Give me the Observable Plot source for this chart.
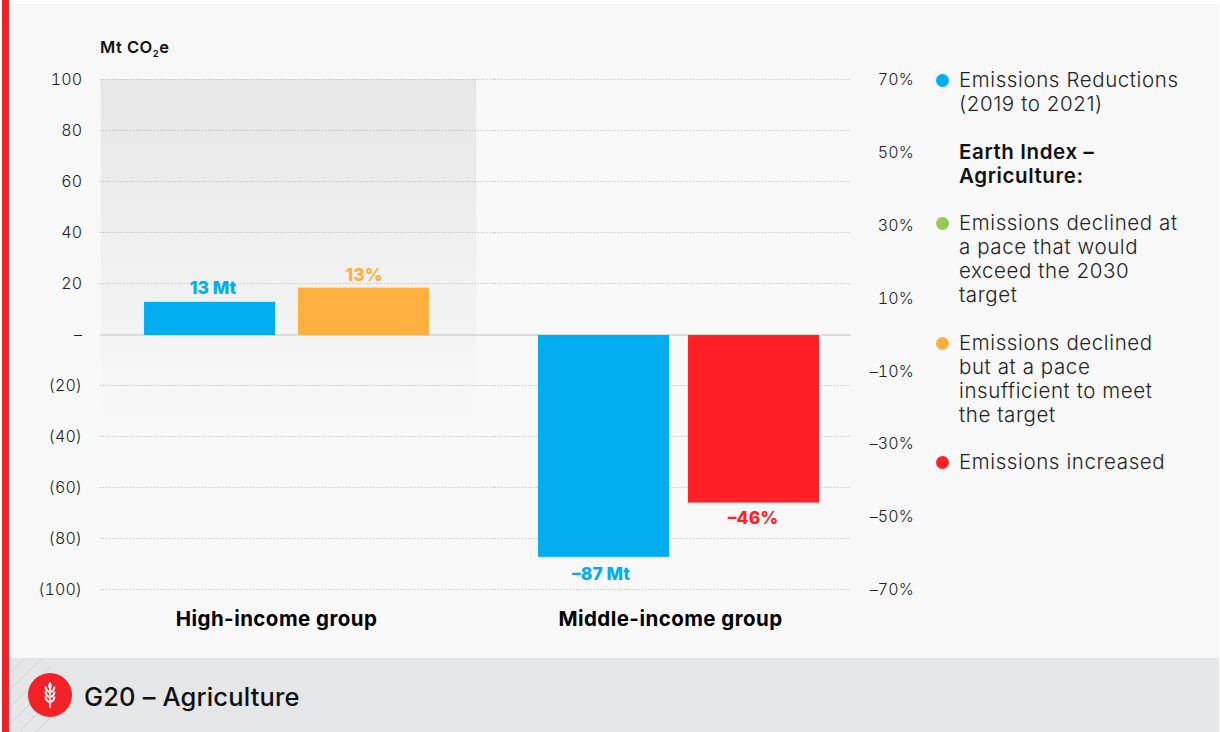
<!DOCTYPE html>
<html>
<head>
<meta charset="utf-8">
<script src="https://cdn.jsdelivr.net/npm/d3@7"></script>
<script src="https://cdn.jsdelivr.net/npm/@observablehq/plot@0.6"></script>
<style>
  html, body { margin: 0; padding: 0; background: #fff; }
  body { width: 1220px; height: 732px; position: relative; overflow: hidden; font-family: Inter, sans-serif; color: #222; }
  #panel { position: absolute; left: 9px; right: 1px; top: 4px; bottom: 0; background: #f8f8f8; }
  #stripe { position: absolute; left: 2px; width: 7px; top: 0; bottom: 0; background: #f12127; }
  #chart { position: absolute; left: 0; top: 0; }
  #chart [aria-label="fx-axis tick label"] { letter-spacing: 0.45px; }
  #chart [aria-label="y-axis tick label"] { letter-spacing: 0.1px; }
  #unit { position: absolute; left: 100px; top: 38px; font-size: 16.5px; font-weight: 600; color: #111; line-height: 18px; letter-spacing: 0.5px; }
  #unit sub { font-size: 9.5px; line-height: 0; vertical-align: -4px; }
  #legend { position: absolute; left: 959px; top: 68px; width: 255px; font-size: 20.5px; font-weight: 300; line-height: 24px; color: #222; letter-spacing: 0.6px; }
  #legend div { position: relative; margin-bottom: 23.6px; }
  #legend .key { position: absolute; left: -23px; top: 6px; width: 13px; height: 13px; border-radius: 50%; }
  #legend b { font-weight: 600; color: #111; }
  #footer { position: absolute; left: 9px; right: 1px; top: 658px; bottom: 0; background: #e5e6e8; }
  #hatch { position: absolute; left: 0; top: 0; width: 41px; height: 74px;
    background: repeating-linear-gradient(135deg, transparent 0 11px, #d0d1d3 11px 12px); }
  #badge { position: absolute; left: 19px; top: 15px; }
  #title { position: absolute; left: 75px; top: 23px; font-size: 25.5px; font-weight: 500; color: #111; line-height: 32px; letter-spacing: 0.15px; }
</style>
</head>
<body>
<div id="panel"></div>
<div id="stripe"></div>
<div id="chart"></div>
<div id="unit">Mt CO<sub>2</sub>e</div>
<div id="legend"></div>
<div id="footer">
  <div id="hatch"></div>
  <svg id="badge" width="44" height="44" viewBox="0 0 44 44">
    <circle cx="22" cy="22" r="22" fill="#f12127"/>
    <g stroke="#fff" fill="none" stroke-linecap="butt">
      <path d="M22 9.5V35" stroke-width="1.5"/>
      <path d="M22 9.5c2 2 2 4.5 0 7c-2-2.5-2-5 0-7z" fill="#fff" stroke-width="0.6"/>
      <path d="M17.6 13.5c0 3 1.6 4.5 3.6 5.5M26.4 13.5c0 3-1.6 4.5-3.6 5.5" stroke-width="2"/>
      <path d="M17.6 18.5c0 3 1.6 4.5 3.6 5.5M26.4 18.5c0 3-1.6 4.5-3.6 5.5" stroke-width="2"/>
      <path d="M17.6 23.5c0 3 1.6 4.5 3.6 5.5M26.4 23.5c0 3-1.6 4.5-3.6 5.5" stroke-width="2"/>
    </g>
  </svg>
  <div id="title">G20 – Agriculture</div>
</div>
<script>
// Emissions reductions against the Earth Index, by income group
const groups = ["High-income group", "Middle-income group"];
const seriesKeys = ["reductions", "index"];
const reductionsMt = [13, -87];
const earthIndexPct = [13, -46];
const earthIndexColors = ["#fdb03f", "#ff1f25"];
const reductionsColor = "#00aeef";

const mtTicks = [100, 80, 60, 40, 20, 0, -20, -40, -60, -80, -100];
const pctTicks = [70, 50, 30, 10, -10, -30, -50, -70];

const legendItems = [
  {color: reductionsColor, lines: ["Emissions Reductions", "(2019 to 2021)"]},
  {heading: true, lines: ["Earth Index –", "Agriculture:"]},
  {color: "#92cd52", lines: ["Emissions declined at", "a pace that would", "exceed the 2030", "target"]},
  {color: "#fdb03f", lines: ["Emissions declined", "but at a pace", "insufficient to meet", "the target"]},
  {color: "#ff1f25", lines: ["Emissions increased"]}
];

// Both measures share one position scale; the percentage axis spans ±70 over the same height
const pctToY = (p) => p * 100 / 70;
const minus = (s) => String(s).replace("-", "–");

const bars = groups.flatMap((group, i) => [
  {group, series: seriesKeys[0], y: reductionsMt[i], color: reductionsColor, label: minus(`${reductionsMt[i]} Mt`)},
  {group, series: seriesKeys[1], y: pctToY(earthIndexPct[i]), color: earthIndexColors[i], label: minus(`${earthIndexPct[i]}%`)}
]);
const isLastBar = (d) => d === bars[3];
const above = bars.filter((d) => d.y > 0);
const below = bars.filter((d) => d.y < 0);

const labelFont = {fontSize: 17.5, fontWeight: 800, fill: "color", fx: "group", x: "series", y: "y", text: "label"};

// Horizontal rules run through both facets and the gutter between them
const acrossFacets = (values, style) => [
  Plot.ruleY(values, {...style, fx: () => groups[0], insetLeft: -1, insetRight: -40}),
  Plot.ruleY(values, {...style, fx: () => groups[1], insetRight: -1})
];

const chart = Plot.plot({
  width: 1220,
  height: 658,
  marginLeft: 100,
  marginRight: 370,
  marginTop: 79,
  marginBottom: 69,
  style: {background: "transparent", fontFamily: "Inter, sans-serif", overflow: "visible"},
  fx: {domain: groups, paddingInner: 0.1, paddingOuter: 0.0018, round: false, label: null},
  x: {domain: seriesKeys, paddingInner: 0.149, paddingOuter: 0.2258, align: 0.623, round: false, axis: null},
  y: {domain: [-100, 100], axis: null},
  color: {type: "identity"},
  marks: [
    Plot.rect([{group: groups[0]}], {fx: "group", y1: () => 100, y2: () => -34, fill: "url(#shade)", insetRight: -21}),
    ...acrossFacets(mtTicks.filter((t) => t !== 0), {stroke: "#b5b5b5", strokeWidth: 1, strokeDasharray: "1,2"}),
    ...acrossFacets([0], {stroke: "#dadada", strokeWidth: 2, dy: 0.5}),
    Plot.barY(bars.filter((d) => !isLastBar(d)), {fx: "group", x: "series", y: "y", fill: "color", dy: 1}),
    Plot.barY(bars.filter(isLastBar), {fx: "group", x: "series", y: "y", fill: "color", dx: -4, dy: 1}),
    Plot.text(above.filter((d) => d.series === "reductions"), {...labelFont, dy: -13, dx: 3}),
    Plot.text(above.filter((d) => d.series === "index"), {...labelFont, dy: -12}),
    Plot.text(below.filter((d) => d.series === "reductions"), {...labelFont, dy: 18, dx: -3}),
    Plot.text(below.filter((d) => d.series === "index"), {...labelFont, dy: 16, dx: -5}),
    Plot.axisY({
      anchor: "left", ticks: mtTicks, tickSize: 0, tickPadding: 19, label: null,
      fontSize: 16, fill: "#222", fontWeight: 300,
      tickFormat: (t) => t === 0 ? "–" : t < 0 ? `(${-t})` : `${t}`
    }),
    Plot.axisY({
      anchor: "right", ticks: pctTicks.map(pctToY), tickSize: 0, tickPadding: 64, label: null, textAnchor: "end",
      fontSize: 16, fill: "#222", fontWeight: 300, dy: 0.5,
      tickFormat: (t) => minus(`${Math.round(t * 70 / 100)}%`)
    }),
    Plot.axisFx({
      anchor: "bottom", tickSize: 0, tickPadding: 22, label: null, dx: -2,
      fontSize: 20.5, fontWeight: 700, fill: "#000"
    })
  ]
});

// Vertical fade for the band behind the high-income group
const defs = d3.select(chart).insert("defs", ":first-child");
const gradient = defs.append("linearGradient").attr("id", "shade").attr("x1", 0).attr("y1", 0).attr("x2", 0).attr("y2", 1);
gradient.append("stop").attr("offset", 0).attr("stop-color", "#e6e6e6");
gradient.append("stop").attr("offset", 1).attr("stop-color", "#f8f8f8");

document.getElementById("chart").append(chart);

const legend = d3.select("#legend");
for (const item of legendItems) {
  const row = legend.append("div");
  if (item.color) row.append("span").attr("class", "key").style("background", item.color);
  const holder = item.heading ? row.append("b") : row;
  item.lines.forEach((line, i) => {
    if (i) holder.append("br");
    holder.append("span").text(line);
  });
}
</script>
</body>
</html>
